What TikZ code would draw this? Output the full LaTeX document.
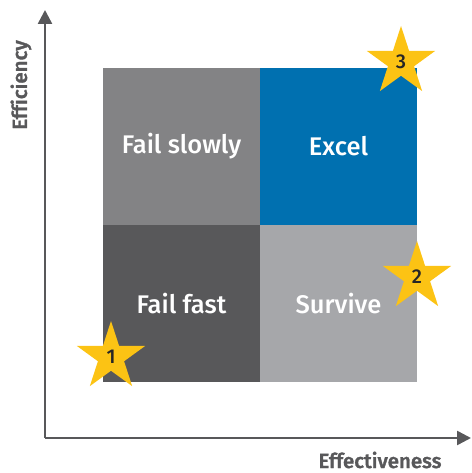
\documentclass[tikz,border=0pt]{standalone}
\usepackage{fontspec}
\setmainfont{Fira Sans}
\newfontfamily\medfont{Fira Sans Medium}
\newfontfamily\boldfont{Fira Sans Medium}[FakeBold=1.6,Ligatures=NoCommon]
\usetikzlibrary{shapes.geometric,arrows.meta}
\definecolor{axisgray}{HTML}{58585A}
\definecolor{slowgray}{HTML}{838385}
\definecolor{fastgray}{HTML}{58585A}
\definecolor{survgray}{HTML}{A6A7AA}
\definecolor{excelblue}{HTML}{0070B0}
\definecolor{stargold}{HTML}{FCC314}
\begin{document}
\begin{tikzpicture}[x=1pt,y=1pt,
  quad/.style={minimum size=157pt,inner sep=0pt,outer sep=0pt,
    text=white,font=\medfont\fontsize{25.5}{30}\selectfont},
  starmark/.style={star,star points=5,star point ratio=2.618,
    minimum size=72pt,inner sep=0pt,fill=stargold,
    text=black!85,font=\medfont\fontsize{20}{22}\selectfont},
  axis/.style={draw=axisgray,line width=2.5pt,
    -{Triangle[length=14pt,width=14pt]}},
  axislabel/.style={text=axisgray,inner sep=0pt,
    font=\boldfont\fontsize{20.5}{24}\selectfont}]
\useasboundingbox (0,0) rectangle (471,473);

% quadrants
\node[quad,fill=slowgray]  (slow)  at (181.5,326.5) {Fail slowly};
\node[quad,fill=excelblue] (excel) at (338.5,326.5) {Excel};
\node[quad,fill=fastgray]  (fast)  at (181.5,169.5) {Fail fast};
\node[quad,fill=survgray]  (surv)  at (338.5,169.5) {Survive};

% axes
\coordinate (origin) at (45,35);
\coordinate (ytip) at (45,463);
\coordinate (xtip) at (471,35);
\draw[axis] (origin) -- (ytip);
\draw[axis] (origin) -- (xtip);
\node[axislabel,rotate=90] (ylab) at (21,388) {Efficiency};
\node[axislabel] (xlab) at (380,13) {Effectiveness};

% stars
\node[starmark] (s1) at (111,116) {1};
\node[starmark] (s2) at (417,196) {2};
\node[starmark] (s3) at (401,411) {3};
\end{tikzpicture}
\end{document}
